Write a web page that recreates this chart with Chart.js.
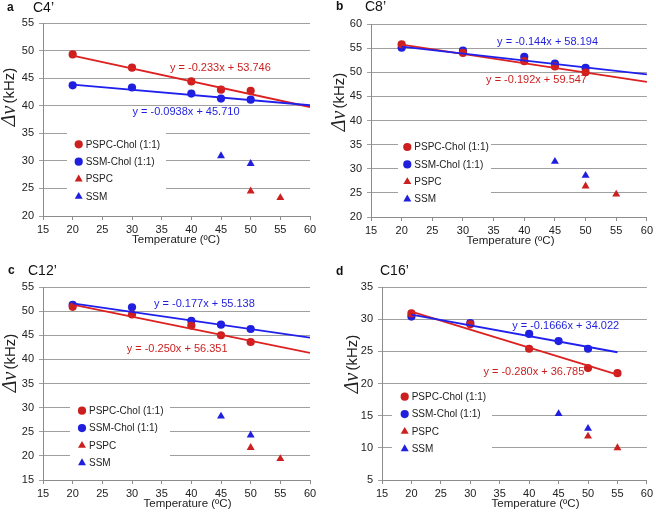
<!DOCTYPE html>
<html>
<head>
<meta charset="utf-8">
<script src="https://cdn.jsdelivr.net/npm/chart.js@4.4.0/dist/chart.umd.min.js"></script>
<style>
  body { margin: 0; background: #fff; width: 656px; height: 512px; position: relative; overflow: hidden; }
  .panel { position: absolute; width: 328px; height: 256px; }
</style>
</head>
<body>
<div class="panel" style="left:0;top:0"><canvas id="pa" width="328" height="256"></canvas></div>
<div class="panel" style="left:328px;top:0"><canvas id="pb" width="328" height="256"></canvas></div>
<div class="panel" style="left:0;top:256px"><canvas id="pc" width="328" height="256"></canvas></div>
<div class="panel" style="left:328px;top:256px"><canvas id="pd" width="328" height="256"></canvas></div>
<script>
// temperatures (ºC)
var tChol = [20, 30, 40, 45, 50];
var tPspcCholD = [20, 30, 40, 50, 55];
var tPspc = [50, 55];
var tSsm = [45, 50];
var fitRange = [20, 60];
var fitRangeD = [20, 55];
var xTicks = [15, 60, 5];

var seriesNames = ['PSPC-Chol (1:1)', 'SSM-Chol (1:1)', 'PSPC', 'SSM'];

// a: C4'
var c4PspcChol = [49.3, 46.9, 44.4, 42.9, 42.7];
var c4SsmChol = [43.7, 43.3, 42.2, 41.3, 41.1];
var c4Pspc = [24.5, 23.3];
var c4Ssm = [30.9, 29.5];
var c4FitPspcChol = [-0.233, 53.746];
var c4FitSsmChol = [-0.0938, 45.710];
var c4YRange = [20, 55];

// b: C8'
var c8PspcChol = [55.8, 54.0, 52.3, 51.2, 50.0];
var c8SsmChol = [55.1, 54.5, 53.2, 51.8, 50.9];
var c8Pspc = [26.4, 24.7];
var c8Ssm = [31.5, 28.6];
var c8FitPspcChol = [-0.192, 59.547];
var c8FitSsmChol = [-0.144, 58.194];
var c8YRange = [20, 60];

// c: C12'
var c12PspcChol = [50.9, 49.3, 47.0, 45.0, 43.6];
var c12SsmChol = [51.3, 50.8, 48.0, 47.2, 46.3];
var c12Pspc = [21.7, 19.4];
var c12Ssm = [28.2, 24.3];
var c12FitPspcChol = [-0.250, 56.351];
var c12FitSsmChol = [-0.177, 55.138];
var c12YRange = [15, 55];

// d: C16'
var c16PspcChol = [30.9, 29.2, 25.4, 22.4, 21.6];
var c16SsmChol = [30.4, 29.4, 27.7, 26.6, 25.4];
var c16Pspc = [11.8, 10.0];
var c16Ssm = [15.3, 13.0];
var c16FitPspcChol = [-0.280, 36.785];
var c16FitSsmChol = [-0.1666, 34.022];
var c16YRange = [5, 35];

var RED = '#cc1f1f';
var BLUE = '#1f1fdd';
var SANS = '"Liberation Sans", Arial, sans-serif';

function pts(xs, ys) {
  return xs.map(function (x, i) { return {x: x, y: ys[i]}; });
}
function fitPts(range, fit) {
  return range.map(function (x) { return {x: x, y: fit[0] * x + fit[1]}; });
}
function eqText(fit) {
  var m = fit[0].toFixed(3);
  if (Number(m) !== fit[0]) m = fit[0].toFixed(4);
  return 'y = ' + m + 'x + ' + fit[1].toFixed(3);
}

var decoPlugin = {
  id: 'deco',
  beforeDatasetsDraw: function (chart) {
    var p = chart.options.plugins.deco;
    var ctx = chart.ctx;
    var lg = p.legend;
    var top = lg.y - 12.5, bottom = lg.y + 3 * 17.4 + 12;
    ctx.save();
    ctx.fillStyle = '#fff';
    ctx.fillRect(lg.box[0], top, lg.box[1] - lg.box[0], bottom - top);
    ctx.font = '10px ' + SANS;
    ctx.textBaseline = 'middle';
    ctx.textAlign = 'left';
    for (var i = 0; i < 4; i++) {
      var ds = chart.data.datasets[i];
      var y = lg.y + i * 17.4;
      ctx.fillStyle = ds.backgroundColor;
      ctx.strokeStyle = ds.borderColor;
      Chart.helpers.drawPoint(ctx, {pointStyle: ds.pointStyle, radius: ds.pointRadius, rotation: 0, borderWidth: 0}, lg.x, y);
      ctx.fillStyle = '#222';
      ctx.fillText(ds.label, lg.x + 7, y + 0.5);
    }
    ctx.restore();
  },
  afterDraw: function (chart) {
    var p = chart.options.plugins.deco;
    var ctx = chart.ctx;
    var xs = chart.scales.x, ys = chart.scales.y;
    var area = chart.chartArea;
    ctx.save();
    ctx.textBaseline = 'middle';
    // panel letter and title
    ctx.textAlign = 'left';
    ctx.fillStyle = '#111';
    ctx.font = 'bold 12px ' + SANS;
    ctx.fillText(p.letter, p.letterPos[0], p.letterPos[1]);
    ctx.font = '14px ' + SANS;
    ctx.fillText(p.title, p.titlePos[0], p.titlePos[1]);
    // fit equations
    ctx.textAlign = 'center';
    ctx.font = '11px ' + SANS;
    p.eqs.forEach(function (e) {
      ctx.fillStyle = e.color;
      ctx.fillText(eqText(e.fit), xs.getPixelForValue(e.at[0]), ys.getPixelForValue(e.at[1]));
    });
    // x title
    ctx.fillStyle = '#222';
    ctx.font = '11.5px ' + SANS;
    ctx.fillText('Temperature (ºC)', p.xTitleX, area.bottom + 23.7);
    // y title: italic Δν + (kHz)
    ctx.translate(p.yTitle[0], p.yTitle[1]);
    ctx.rotate(-Math.PI / 2);
    var f1 = 'italic 20px "Liberation Serif", "Times New Roman", serif';
    var f2 = '15px ' + SANS;
    ctx.font = f1;
    var w1 = ctx.measureText('Δν').width;
    ctx.font = f2;
    var w2 = ctx.measureText('(kHz)').width;
    var gap = 2;
    var x0 = -(w1 + gap + w2) / 2;
    ctx.textAlign = 'left';
    ctx.font = f1;
    ctx.fillText('Δν', x0, 0);
    ctx.font = f2;
    ctx.fillText('(kHz)', x0 + w1 + gap, 0);
    ctx.restore();
  }
};

function makePanel(id, cfg) {
  var area = cfg.area; // left, top, right, bottom in canvas px
  var datasets = [
    {label: seriesNames[0], data: pts(cfg.tPspcChol, cfg.pspcChol), pointStyle: 'circle', pointRadius: 4.1, backgroundColor: RED, borderColor: RED, borderWidth: 0, order: 2},
    {label: seriesNames[1], data: pts(tChol, cfg.ssmChol), pointStyle: 'circle', pointRadius: 4.1, backgroundColor: BLUE, borderColor: BLUE, borderWidth: 0, order: 2},
    {label: seriesNames[2], data: pts(tPspc, cfg.pspc), pointStyle: 'triangle', pointRadius: 4.6, backgroundColor: RED, borderColor: RED, borderWidth: 0, order: 2},
    {label: seriesNames[3], data: pts(tSsm, cfg.ssm), pointStyle: 'triangle', pointRadius: 4.6, backgroundColor: BLUE, borderColor: BLUE, borderWidth: 0, order: 2},
    {label: 'fit PSPC-Chol', type: 'line', data: fitPts(cfg.fitRange, cfg.fitPspcChol), borderColor: '#dd2020', borderWidth: 1.8, pointRadius: 0, fill: false, order: 1},
    {label: 'fit SSM-Chol', type: 'line', data: fitPts(cfg.fitRange, cfg.fitSsmChol), borderColor: '#2020ee', borderWidth: 1.8, pointRadius: 0, fill: false, order: 0}
  ];
  new Chart(document.getElementById(id), {
    type: 'scatter',
    data: {datasets: datasets},
    plugins: [decoPlugin],
    options: {
      responsive: false,
      animation: false,
      devicePixelRatio: 1,
      layout: {autoPadding: false, padding: {left: 0, top: area[1], right: 328 - area[2], bottom: 0}},
      plugins: {
        legend: {display: false},
        tooltip: {enabled: false},
        deco: cfg.deco
      },
      scales: {
        x: {
          type: 'linear', min: xTicks[0], max: xTicks[1],
          ticks: {stepSize: xTicks[2], color: '#222', font: {family: SANS, size: 11}, padding: 3, maxRotation: 0},
          grid: {drawOnChartArea: false, drawTicks: true, tickLength: 4, color: '#8c8c8c'},
          border: {color: '#8c8c8c', width: 1},
          afterFit: function (s) { s.height = 256 - area[3]; }
        },
        y: {
          type: 'linear', min: cfg.yRange[0], max: cfg.yRange[1],
          ticks: {stepSize: 5, color: '#222', font: {family: SANS, size: 11}, padding: 5},
          grid: {color: '#a0a0a0', tickLength: 4, lineWidth: 1},
          border: {color: '#8c8c8c', width: 1},
          afterFit: function (s) { s.width = area[0]; }
        }
      }
    }
  });
}

makePanel('pa', {
  area: [43, 23, 310, 216], yRange: c4YRange, fitRange: fitRange, tPspcChol: tChol,
  pspcChol: c4PspcChol, ssmChol: c4SsmChol, pspc: c4Pspc, ssm: c4Ssm,
  fitPspcChol: c4FitPspcChol, fitSsmChol: c4FitSsmChol,
  deco: {
    letter: 'a', letterPos: [7, 8], title: 'C4’', titlePos: [33, 8.5],
    legend: {x: 78.7, y: 144.3, box: [67, 166]},
    eqs: [{fit: c4FitPspcChol, color: RED, at: [44.9, 46.8]}, {fit: c4FitSsmChol, color: BLUE, at: [39.1, 38.8]}],
    xTitleX: 176, yTitle: [10, 97]
  }
});
makePanel('pb', {
  area: [43, 24, 321, 217], yRange: c8YRange, fitRange: fitRange, tPspcChol: tChol,
  pspcChol: c8PspcChol, ssmChol: c8SsmChol, pspc: c8Pspc, ssm: c8Ssm,
  fitPspcChol: c8FitPspcChol, fitSsmChol: c8FitSsmChol,
  deco: {
    letter: 'b', letterPos: [8, 7], title: 'C8’', titlePos: [37, 7.5],
    legend: {x: 79.3, y: 147, box: [70, 163]},
    eqs: [{fit: c8FitSsmChol, color: BLUE, at: [43.8, 56.2]}, {fit: c8FitPspcChol, color: RED, at: [42.0, 48.4]}],
    xTitleX: 182.5, yTitle: [12, 102]
  }
});
makePanel('pc', {
  area: [43, 31, 310, 224], yRange: c12YRange, fitRange: fitRange, tPspcChol: tChol,
  pspcChol: c12PspcChol, ssmChol: c12SsmChol, pspc: c12Pspc, ssm: c12Ssm,
  fitPspcChol: c12FitPspcChol, fitSsmChol: c12FitSsmChol,
  deco: {
    letter: 'c', letterPos: [8, 15], title: 'C12’', titlePos: [28, 15.5],
    legend: {x: 82, y: 154.7, box: [70, 170]},
    eqs: [{fit: c12FitSsmChol, color: BLUE, at: [42.2, 51.5]}, {fit: c12FitPspcChol, color: RED, at: [37.6, 42.2]}],
    xTitleX: 187.5, yTitle: [11, 107]
  }
});
makePanel('pd', {
  area: [54, 31, 321, 224], yRange: c16YRange, fitRange: fitRangeD, tPspcChol: tPspcCholD,
  pspcChol: c16PspcChol, ssmChol: c16SsmChol, pspc: c16Pspc, ssm: c16Ssm,
  fitPspcChol: c16FitPspcChol, fitSsmChol: c16FitSsmChol,
  deco: {
    letter: 'd', letterPos: [8, 16], title: 'C16’', titlePos: [52, 15.5],
    legend: {x: 76.7, y: 140.7, box: [64, 164]},
    eqs: [{fit: c16FitSsmChol, color: BLUE, at: [46.2, 29.0]}, {fit: c16FitPspcChol, color: RED, at: [40.8, 21.8]}],
    xTitleX: 207.5, yTitle: [25, 108]
  }
});
</script>
</body>
</html>
